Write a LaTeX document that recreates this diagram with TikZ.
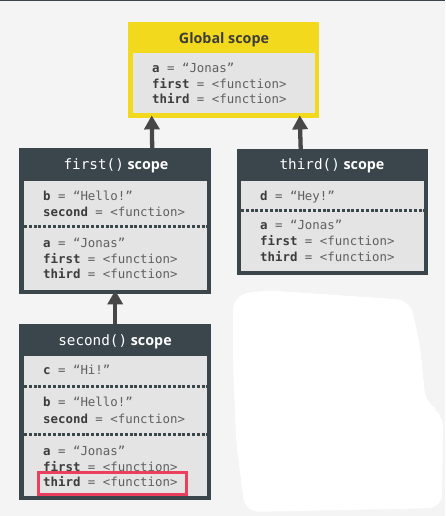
\documentclass[tikz,border=0pt]{standalone}
\usepackage{fontspec}
\setmainfont{Open Sans}
\setmonofont{DejaVu Sans Mono}
\usetikzlibrary{arrows.meta,positioning}
\definecolor{bgcol}{HTML}{F4F4F4}
\definecolor{slate}{HTML}{3A454C}
\definecolor{globyellow}{HTML}{F3D91D}
\definecolor{panel}{HTML}{E4E4E4}
\definecolor{varname}{HTML}{3C3C3C}
\definecolor{varval}{HTML}{606060}
\definecolor{hilite}{HTML}{EC3F5E}
\tikzset{
  scopebox/.style={anchor=north west, inner sep=0pt, fill=slate},
  panelbox/.style={anchor=north west, inner sep=0pt, fill=panel},
  heading/.style={inner sep=0pt, font=\bfseries\fontsize{14.3}{16}\selectfont, text=white},
  varline/.style={anchor=base west, inner sep=0pt, font=\ttfamily\fontsize{12.4}{14}\selectfont, text=varval},
  sepline/.style={draw=slate, line width=3pt, dash pattern=on 3pt off 1.8pt},
  uparrow/.style={-{Triangle[width=15pt,length=14pt]}, line width=4.3pt, draw=black!72},
}
\newcommand{\vn}[1]{\textbf{\color{varname}#1}}
\newcommand{\fn}[1]{{\mdseries\ttfamily #1}}
\begin{document}
\begin{tikzpicture}[x=1pt,y=-1pt]
  \useasboundingbox (0,0) rectangle (445,516);
  \fill[bgcol] (0,0) rectangle (445,516);
  \fill[slate] (0,0) rectangle (445,1.5);

  % global scope
  \node[scopebox, fill=globyellow, minimum width=191pt, minimum height=96pt] (global) at (128,22) {};
  \node[panelbox, minimum width=182pt, minimum height=60pt] (globalpanel) at (133,53) {};
  \node[heading, text=varname] (globaltitle) at (224,40) {Global scope};
  \node[varline] (ga) at (152,73) {\vn{a} = “Jonas”};
  \node[varline] (gfirst) at (152,89) {\vn{first} = <function>};
  \node[varline] (gthird) at (152,104) {\vn{third} = <function>};

  % first() scope
  \node[scopebox, minimum width=192pt, minimum height=146pt] (first) at (19,148) {};
  \node[panelbox, minimum width=183pt, minimum height=109pt] (firstpanel) at (24,181) {};
  \node[heading] (firsttitle) at (116,166) {\fn{first()} scope};
  \node[varline] (fb) at (43,200) {\vn{b} = “Hello!”};
  \node[varline] (fsecond) at (43,216) {\vn{second} = <function>};
  \node[varline] (fa) at (43,247) {\vn{a} = “Jonas”};
  \node[varline] (ffirst) at (43,263) {\vn{first} = <function>};
  \node[varline] (fthird) at (43,278) {\vn{third} = <function>};
  \draw[sepline] (firstpanel.west |- 0,226) -- (firstpanel.east |- 0,226);

  % third() scope
  \node[scopebox, minimum width=191pt, minimum height=126pt] (third) at (237,149) {};
  \node[panelbox, minimum width=183pt, minimum height=90pt] (thirdpanel) at (241,181) {};
  \node[heading] (thirdtitle) at (332,166) {\fn{third()} scope};
  \node[varline] (td) at (260,200) {\vn{d} = “Hey!”};
  \node[varline] (ta) at (260,229) {\vn{a} = “Jonas”};
  \node[varline] (tfirst) at (260,245) {\vn{first} = <function>};
  \node[varline] (tthird) at (260,261) {\vn{third} = <function>};
  \draw[sepline] (thirdpanel.west |- 0,210) -- (thirdpanel.east |- 0,210);

  % second() scope
  \node[scopebox, minimum width=192pt, minimum height=176pt] (second) at (19,324) {};
  \node[panelbox, minimum width=183pt, minimum height=140pt] (secondpanel) at (24,356) {};
  \node[heading] (secondtitle) at (115,342) {\fn{second()} scope};
  \node[varline] (sc) at (43,374) {\vn{c} = “Hi!”};
  \node[varline] (sb) at (43,406) {\vn{b} = “Hello!”};
  \node[varline] (ssecond) at (43,423) {\vn{second} = <function>};
  \node[varline] (sa) at (43,455) {\vn{a} = “Jonas”};
  \node[varline] (sfirst) at (43,471) {\vn{first} = <function>};
  \node[varline] (sthird) at (43,486) {\vn{third} = <function>};
  \draw[sepline] (secondpanel.west |- 0,386) -- (secondpanel.east |- 0,386);
  \draw[sepline] (secondpanel.west |- 0,434) -- (secondpanel.east |- 0,434);
  \node[draw=hilite, line width=2.6pt, inner sep=0pt, anchor=north west,
        minimum width=148pt, minimum height=22pt] (lookup) at (37,471) {};

  % scope chain
  \draw[uparrow] ([xshift=37pt]first.north) -- ([xshift=-72pt,yshift=3pt]global.south);
  \draw[uparrow] ([xshift=-32pt]third.north) -- ([xshift=76pt,yshift=3pt]global.south);
  \draw[uparrow] (second.north) -- ([yshift=4pt]first.south);

  % erased area
  \fill[white, rounded corners=14pt] (233,296) -- (262,290) -- (410,300) -- (420,345)
    -- (426,405) -- (443,412) -- (442,508) -- (245,512) -- (236,440) -- (233,360) -- cycle;
\end{tikzpicture}
\end{document}
